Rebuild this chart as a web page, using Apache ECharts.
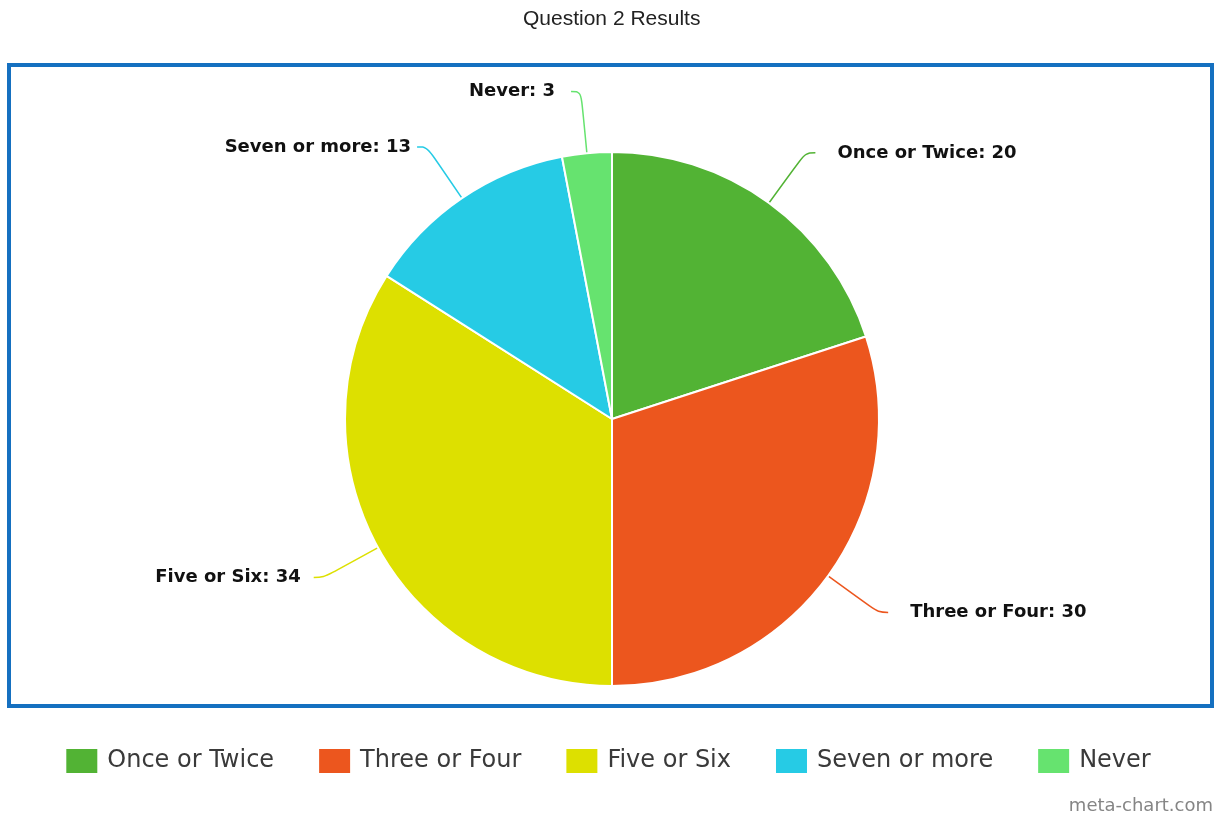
<!DOCTYPE html>
<html>
<head>
<meta charset="utf-8">
<script src="https://cdn.jsdelivr.net/npm/echarts@6/dist/echarts.min.js"></script>
<style>
  html, body { margin: 0; padding: 0; background: #fff; }
  #chart { width: 1215px; height: 816px; }
</style>
</head>
<body>
<div id="chart"></div>
<script>
// Survey answers for question 2
const categories = ['Once or Twice', 'Three or Four', 'Five or Six', 'Seven or more', 'Never'];
const counts = [20, 30, 34, 13, 3];
const sliceColors = ['#52b334', '#ec561e', '#dde000', '#26cbe5', '#66e36f'];
// gap between each label line end and its text
const labelGaps = [22, 22, 13, 6, 16];
const chartTitle = 'Question 2 Results';
const creditText = 'meta-chart.com';

const chart = echarts.init(document.getElementById('chart'), null, { renderer: 'canvas' });

const pieData = categories.map((name, i) => ({
  name,
  value: counts[i],
  itemStyle: { color: sliceColors[i] },
  label: { distanceToLabelLine: labelGaps[i] },
  labelLine: { lineStyle: { color: sliceColors[i] } }
}));

chart.setOption({
  animation: false,
  backgroundColor: '#ffffff',
  title: {
    text: chartTitle,
    left: 518,
    top: 4,
    textStyle: {
      fontFamily: 'Liberation Sans, Arial, sans-serif',
      fontSize: 21,
      fontWeight: 'normal',
      color: '#222222'
    }
  },
  legend: {
    bottom: 36,
    left: 'center',
    itemWidth: 33,
    itemHeight: 26,
    itemGap: 43,
    icon: 'rect',
    data: categories,
    textStyle: {
      fontFamily: 'DejaVu Sans, Verdana, sans-serif',
      fontSize: 24,
      color: '#3a3a3a',
      padding: [0, 0, 0, 4]
    }
  },
  graphic: [
    {
      type: 'rect',
      shape: { x: 9, y: 65, width: 1203, height: 641 },
      style: { fill: 'none', stroke: '#1570c0', lineWidth: 4 },
      silent: true
    },
    {
      type: 'text',
      right: 2,
      bottom: 1,
      style: {
        text: creditText,
        fontFamily: 'DejaVu Sans, Verdana, sans-serif',
        fontSize: 18,
        fill: '#858585'
      }
    }
  ],
  series: [
    {
      type: 'pie',
      center: [612, 419],
      radius: [0, 267],
      startAngle: 90,
      clockwise: true,
      data: pieData,
      itemStyle: { borderColor: '#ffffff', borderWidth: 2 },
      label: {
        show: true,
        position: 'outside',
        formatter: '{b}: {c}',
        fontFamily: 'DejaVu Sans, Verdana, sans-serif',
        fontSize: 18,
        fontWeight: 'bold',
        color: '#111111'
      },
      labelLine: {
        show: true,
        length: 62,
        length2: 10,
        smooth: 0.4,
        lineStyle: { width: 1.5 }
      },
      emphasis: { disabled: true }
    }
  ]
});
</script>
</body>
</html>
